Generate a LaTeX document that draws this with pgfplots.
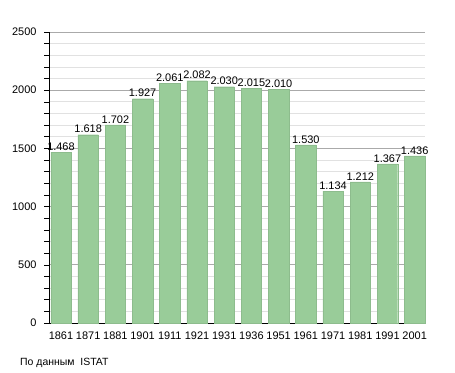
\documentclass[border=0pt]{standalone}
\usepackage{pgfplots}
\pgfplotsset{compat=1.18}
\usepackage{fontspec}
\setmainfont{Liberation Sans}
\definecolor{barg}{RGB}{153,204,153}
\definecolor{majg}{RGB}{170,170,170}
\definecolor{ming}{RGB}{225,225,225}
\begin{document}
\begin{tikzpicture}
\path[use as bounding box] (0,0) rectangle (455bp,373bp);
\begin{axis}[
  at={(49bp,50bp)}, anchor=south west,
  scale only axis, width=376bp, height=291bp,
  xmin=-0.44, xmax=13.38, ymin=0, ymax=2500,
  axis x line*=bottom, axis y line*=left,
  axis line style={black, line width=0.8pt, -},
  ybar, bar width=0.75, bar shift=0pt,
  xtick=data,
  xticklabels={1861,1871,1881,1901,1911,1921,1931,1936,1951,1961,1971,1981,1991,2001},
  xtick style={draw=none},
  ytick={0,500,...,2500},
  minor ytick={0,100,...,2500},
  ymajorgrids, yminorgrids,
  major grid style={majg, line width=0.8pt},
  minor grid style={ming, line width=0.8pt},
  tick align=outside,
  major tick length=5bp, minor tick length=5bp,
  ytick style={black, line width=0.6pt},
  minor tick style={black, line width=0.6pt},
  tick label style={font=\fontsize{11}{13}\selectfont},
  /pgf/number format/assume math mode=true,
  yticklabel style={/pgf/number format/1000 sep={}, xshift=-4bp},
  xticklabel style={yshift=0bp},
  nodes near coords,
  nodes near coords style={font=\fontsize{11}{13}\selectfont, /pgf/number format/1000 sep={.}, inner sep=1.5bp},
  clip=false,
]
\addplot[fill=barg, draw=barg!92!black, line width=0.3pt] coordinates {
(0,1468) (1,1618) (2,1702) (3,1927) (4,2061) (5,2082) (6,2030) (7,2015) (8,2010) (9,1530) (10,1134) (11,1212) (12,1367) (13,1436)
};
\end{axis}
\node[anchor=base west, inner sep=0pt, font=\fontsize{10.5}{13}\selectfont] at (20bp,8bp) {По данным\ \ ISTAT};
\end{tikzpicture}
\end{document}
